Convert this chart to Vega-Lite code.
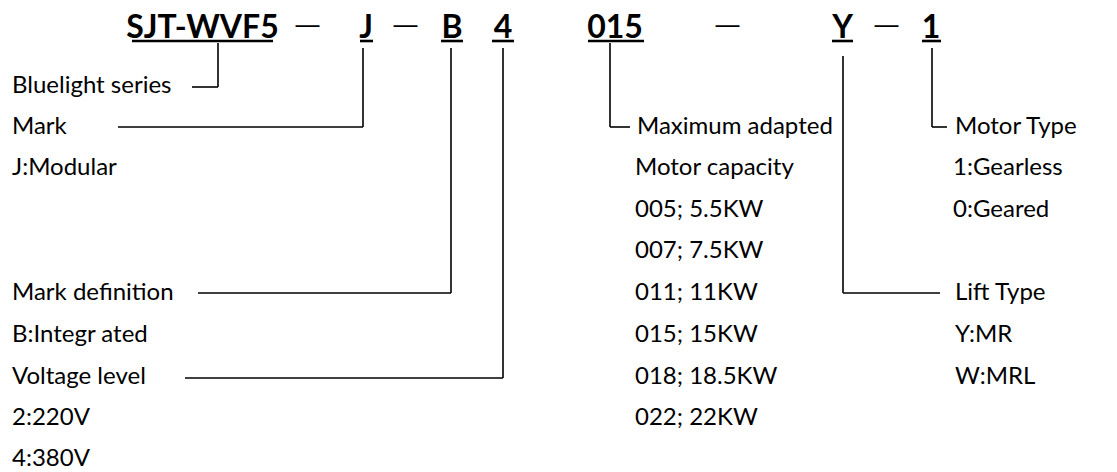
{
  "$schema": "https://vega.github.io/schema/vega-lite/v6.json",
  "width": 1117,
  "height": 472,
  "padding": 0,
  "autosize": {"type": "fit", "contains": "padding"},
  "background": "white",
  "config": {"view": {"stroke": null}},
  "datasets": {
    "header": [
      {"label": "SJT-WVF5", "x": 202.5, "y": 38},
      {"label": "J", "x": 366, "y": 38},
      {"label": "B", "x": 452, "y": 38},
      {"label": "4", "x": 503, "y": 38},
      {"label": "015", "x": 615, "y": 38},
      {"label": "Y", "x": 842.5, "y": 38},
      {"label": "1", "x": 931, "y": 38}
    ],
    "dashes": [
      {"label": "—", "x": 307.5, "y": 33},
      {"label": "—", "x": 405.5, "y": 33},
      {"label": "—", "x": 727.5, "y": 33},
      {"label": "—", "x": 886.5, "y": 33}
    ],
    "labels": [
      {"label": "Bluelight series", "x": 12, "y": 93},
      {"label": "Mark", "x": 12, "y": 134},
      {"label": "J:Modular", "x": 12, "y": 175},
      {"label": "Mark definition", "x": 12, "y": 300},
      {"label": "B:Integr ated", "x": 12, "y": 342},
      {"label": "Voltage level", "x": 12, "y": 384},
      {"label": "2:220V", "x": 12, "y": 425},
      {"label": "4:380V", "x": 12, "y": 466},
      {"label": "Maximum adapted", "x": 637, "y": 134},
      {"label": "Motor capacity", "x": 635, "y": 175},
      {"label": "005; 5.5KW", "x": 635, "y": 217},
      {"label": "007; 7.5KW", "x": 635, "y": 258},
      {"label": "011; 11KW", "x": 635, "y": 300},
      {"label": "015; 15KW", "x": 635, "y": 342},
      {"label": "018; 18.5KW", "x": 635, "y": 384},
      {"label": "022; 22KW", "x": 635, "y": 425},
      {"label": "Motor Type", "x": 955, "y": 134},
      {"label": "1:Gearless", "x": 953, "y": 175},
      {"label": "0:Geared", "x": 953, "y": 217},
      {"label": "Lift Type", "x": 955, "y": 300},
      {"label": "Y:MR", "x": 955, "y": 342},
      {"label": "W:MRL", "x": 955, "y": 384}
    ],
    "segments": [
      {"x": 218, "y": 43, "x2": 218, "y2": 87},
      {"x": 192, "y": 87, "x2": 218, "y2": 87},
      {"x": 363, "y": 48, "x2": 363, "y2": 127},
      {"x": 118, "y": 127, "x2": 363, "y2": 127},
      {"x": 451, "y": 48, "x2": 451, "y2": 293},
      {"x": 198, "y": 293, "x2": 451, "y2": 293},
      {"x": 503, "y": 48, "x2": 503, "y2": 378},
      {"x": 185, "y": 378, "x2": 503, "y2": 378},
      {"x": 610, "y": 43, "x2": 610, "y2": 127},
      {"x": 610, "y": 127, "x2": 630, "y2": 127},
      {"x": 843, "y": 56, "x2": 843, "y2": 293},
      {"x": 843, "y": 293, "x2": 940, "y2": 293},
      {"x": 932, "y": 48, "x2": 932, "y2": 127},
      {"x": 932, "y": 127, "x2": 947, "y2": 127}
    ],
    "underlines": [
      {"x": 132, "x2": 273, "y": 41},
      {"x": 360, "x2": 373, "y": 41},
      {"x": 441, "x2": 463, "y": 41},
      {"x": 492, "x2": 514, "y": 41},
      {"x": 588, "x2": 644, "y": 41},
      {"x": 832, "x2": 853, "y": 41},
      {"x": 922, "x2": 941, "y": 41}
    ]
  },
  "encoding": {
    "x": {"field": "x", "type": "quantitative", "scale": {"domain": [0, 1117], "nice": false, "zero": false}, "axis": null},
    "y": {"field": "y", "type": "quantitative", "scale": {"domain": [0, 472], "nice": false, "zero": false, "reverse": true}, "axis": null}
  },
  "layer": [
    {
      "data": {"name": "segments"},
      "mark": {"type": "rule", "color": "black", "strokeWidth": 1.6},
      "encoding": {"x2": {"field": "x2"}, "y2": {"field": "y2"}}
    },
    {
      "data": {"name": "underlines"},
      "mark": {"type": "rule", "color": "black", "strokeWidth": 2.6},
      "encoding": {"x2": {"field": "x2"}}
    },
    {
      "data": {"name": "header"},
      "mark": {"type": "text", "font": "Lato", "fontWeight": "bold", "fontSize": 32, "align": "center", "baseline": "alphabetic", "color": "black"},
      "encoding": {"text": {"field": "label"}}
    },
    {
      "data": {"name": "dashes"},
      "mark": {"type": "text", "font": "Open Sans", "fontSize": 26, "align": "center", "baseline": "alphabetic", "color": "black"},
      "encoding": {"text": {"field": "label"}}
    },
    {
      "data": {"name": "labels"},
      "mark": {"type": "text", "font": "Lato", "fontSize": 24, "align": "left", "baseline": "alphabetic", "color": "black"},
      "encoding": {"text": {"field": "label"}}
    }
  ]
}
